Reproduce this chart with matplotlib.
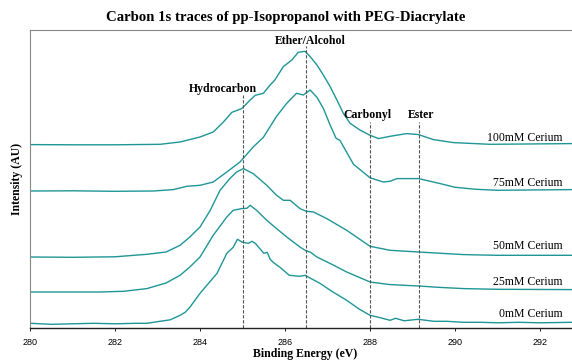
import matplotlib
matplotlib.use("Agg")
import matplotlib.pyplot as plt

# ---- data (binding energy in eV, intensity in arbitrary units) ----
x_0mM = [280.0, 280.5, 281.0, 281.5, 282.0, 282.5, 282.75, 283.06, 283.3, 283.53, 283.65, 283.76,
         284.0, 284.2, 284.4, 284.55, 284.63, 284.78, 284.88, 285.0, 285.14, 285.22, 285.3, 285.4,
         285.5, 285.58, 285.65, 285.72, 285.88, 286.1, 286.35, 286.47, 286.6, 286.82, 287.1,
         287.45, 287.75, 288.0, 288.2, 288.47, 288.6, 288.8, 289.13, 289.5, 289.8, 290.2, 290.6,
         291.0, 291.5, 292.0, 292.75]
y_0mM = [5, 4, 4.5, 5, 4.5, 5, 5, 7, 8.5, 13, 16, 21,
         35, 45, 55, 68, 75, 81, 89, 86, 85, 87, 85, 80,
         75, 76, 69, 66, 61, 53, 52, 53, 50, 45, 37,
         28, 19, 13, 11, 8, 10, 7.5, 9, 7, 7, 6, 6,
         5.5, 6, 5.5, 6]

x_25mM = [280.0, 281.0, 281.65, 282.2, 282.75, 283.2, 283.53, 283.76, 284.0, 284.31, 284.63, 284.78,
          284.98, 285.1, 285.18, 285.33, 285.57, 285.8, 286.04, 286.35, 286.47, 286.6, 286.75,
          287.1, 287.45, 288.0, 288.47, 289.14, 289.6, 290.2, 291.0, 292.75]
y_25mM = [36.3, 36.3, 36.3, 37, 39.7, 45.3, 53, 61.3, 71.3, 93, 111.3, 118,
          119.7, 120, 123, 118, 108, 99.7, 91.3, 81.3, 78, 76, 71.3,
          64, 56.3, 46.3, 43.7, 42.3, 41, 39.7, 39, 38.7]

x_50mM = [280.0, 281.0, 282.0, 282.75, 283.2, 283.53, 283.76, 284.0, 284.24, 284.47, 284.7, 284.86,
          285.02, 285.25, 285.57, 285.8, 285.96, 286.12, 286.35, 286.5, 286.67, 286.98, 287.45,
          288.0, 288.47, 289.14, 290.2, 291.0, 292.75]
y_50mM = [71.3, 71, 71.5, 74, 76.3, 83, 91.3, 101.3, 118, 138, 149.7, 156.3,
          159.7, 154.7, 143, 133, 128, 128, 119.7, 117, 116.3, 109.7, 98,
          82, 78, 76.3, 73.7, 73, 73]

x_75mM = [280.0, 281.0, 282.0, 282.9, 283.37, 283.69, 284.0, 284.31, 284.63, 284.94, 285.25, 285.49,
          285.8, 286.04, 286.27, 286.43, 286.59, 286.75, 286.9, 287.06, 287.2, 287.29, 287.61,
          288.0, 288.31, 288.47, 288.63, 288.86, 289.14, 289.65, 290.0, 290.5, 291.0, 292.75]
y_75mM = [137.3, 137.5, 137, 137.3, 138.7, 142, 143, 146.3, 156.3, 166.3, 181.3, 191,
          212, 225, 235, 233.3, 238.3, 231, 220, 203.3, 190, 188, 164,
          150.5, 146.3, 147, 149.7, 149.7, 149.7, 144.7, 141, 139, 138, 138.7]

x_100mM = [280.0, 281.0, 282.0, 283.06, 283.53, 284.0, 284.31, 284.55, 284.75, 284.98, 285.18, 285.3,
           285.49, 285.65, 285.76, 285.96, 286.16, 286.31, 286.47, 286.59, 286.75, 286.9, 287.06,
           287.22, 287.37, 287.53, 287.76, 288.0, 288.2, 288.47, 288.86, 289.14, 289.49, 289.96,
           290.82, 292.75]
y_100mM = [183.7, 183.5, 183.5, 184, 186.3, 191.3, 196.3, 206.3, 216, 219.7, 228.3, 233,
           235, 243.3, 248.3, 261.7, 268.3, 276, 277, 271.7, 263.3, 253.3, 241.7,
           228.3, 215, 205, 198.3, 193, 189.7, 192, 194.7, 193.7, 188.7, 185.7,
           184, 184.7]

series_names = ["0mM Cerium", "25mM Cerium", "50mM Cerium", "75mM Cerium", "100mM Cerium"]

peak_names = ["Hydrocarbon", "Ether/Alcohol", "Carbonyl", "Ester"]
peak_energies = [285.0, 286.5, 288.0, 289.15]

xticks = [280, 282, 284, 286, 288, 290, 292]

# ---- plotting ----
W, H = 572, 363
fig = plt.figure(figsize=(W / 100, H / 100), dpi=100)
ax = fig.add_axes([30 / W, (H - 328.3) / H, (W - 30) / W, (328.3 - 29.5) / H])

color = "#1f9696"
series = [(x_0mM, y_0mM), (x_25mM, y_25mM), (x_50mM, y_50mM), (x_75mM, y_75mM), (x_100mM, y_100mM)]
for xs, ys in series:
    ax.plot(xs, ys, color=color, lw=1.0)

ax.set_xlim(280, 292.75)
ax.set_ylim(0, 298.8)

serif = "Liberation Serif"
sans = "Liberation Sans"

# dashed reference lines and labels
line_tops = [233, 282, 206.6, 206.6]
label_pos = [(284.54, 239), (286.59, 287.6), (287.94, 213.3), (289.2, 213.3)]
for e, top, name, (lx, ly) in zip(peak_energies, line_tops, peak_names, label_pos):
    ax.plot([e, e], [0, top], color="#555555", lw=0.8, ls=(0, (3, 1.5)))
    ax.text(lx, ly, name, ha="center", va="center", fontsize=8.5, fontweight="bold",
            family=serif)

# series labels
label_y = [14.3, 46.6, 82.3, 145, 190.6]
for name, ly in zip(series_names, label_y):
    ax.text(292.53, ly, name, ha="right", va="center", fontsize=8.5, family=serif)

ax.set_xticks(xticks)
ax.set_xticklabels([str(t) for t in xticks], fontsize=6.5, family=sans)
ax.set_yticks([])
ax.tick_params(axis="x", length=2, width=0.6, pad=5)

for s in ["left", "top"]:
    ax.spines[s].set_color("#888888")
    ax.spines[s].set_linewidth(0.8)
ax.spines["bottom"].set_color("#222222")
ax.spines["bottom"].set_linewidth(1.0)
ax.spines["right"].set_visible(False)

fig.text(305 / W, 1 - 354 / H, "Binding Energy (eV)", ha="center", va="center",
         fontsize=8.5, fontweight="bold", family=serif)
ax.set_ylabel("Intensity (AU)", fontsize=8.5, fontweight="bold", family=serif, labelpad=5)

fig.text(286 / W, 1 - 17 / H, "Carbon 1s traces of pp-Isopropanol with PEG-Diacrylate",
         ha="center", va="center", fontsize=10.6, fontweight="bold", family=serif)

fig.savefig("out.png", dpi=100)
